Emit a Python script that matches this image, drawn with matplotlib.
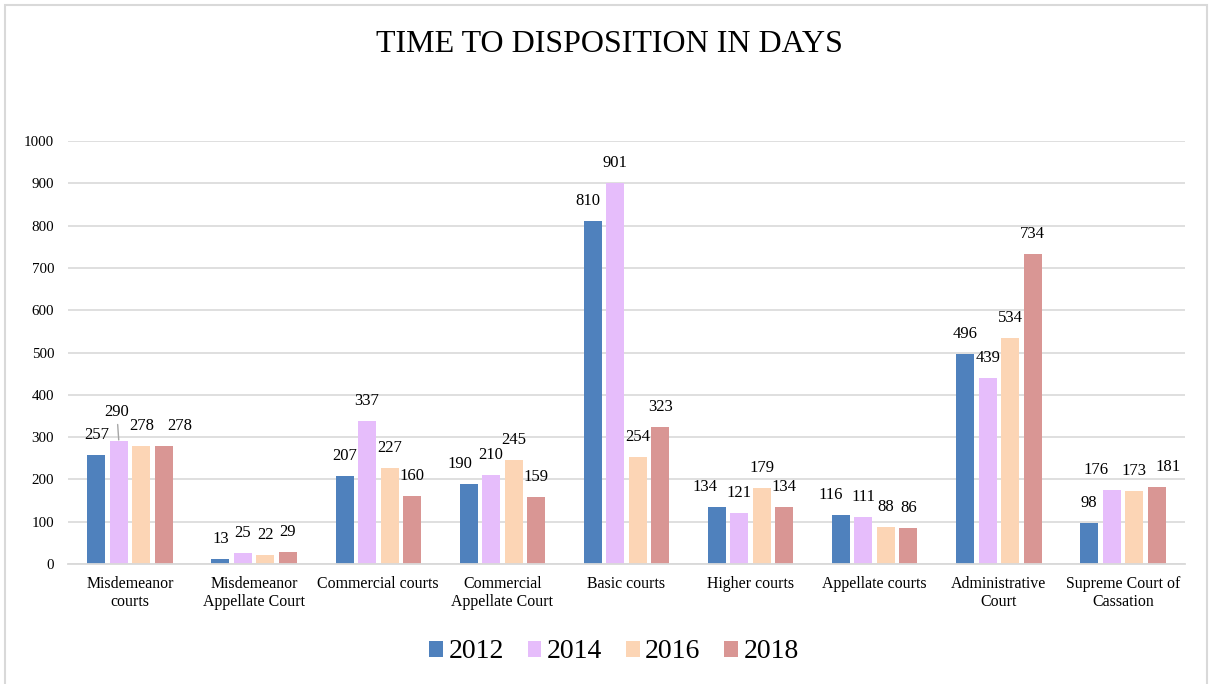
import numpy as np
import matplotlib.pyplot as plt
from matplotlib.patches import Rectangle

plt.rcParams['font.family'] = ['Liberation Serif', 'DejaVu Serif']

# court categories and average time to disposition (days) per year
categories = ["Misdemeanor\ncourts", "Misdemeanor\nAppellate Court", "Commercial courts",
              "Commercial\nAppellate Court", "Basic courts", "Higher courts",
              "Appellate courts", "Administrative\nCourt", "Supreme Court of\nCassation"]
years = ["2012", "2014", "2016", "2018"]
days_2012 = [257, 13, 207, 190, 810, 134, 116, 496, 98]
days_2014 = [290, 25, 337, 210, 901, 121, 111, 439, 176]
days_2016 = [278, 22, 227, 245, 254, 179, 88, 534, 173]
days_2018 = [278, 29, 160, 159, 323, 134, 86, 734, 181]
series = [days_2012, days_2014, days_2016, days_2018]
colors = ["#4F81BD", "#E6BDFB", "#FCD5B5", "#D99694"]

# labels nudged sideways (pixels) so they do not collide
label_shift = {(0, 3): 16, (3, 0): -9, (4, 0): -5, (5, 0): -12,
               (6, 0): -10, (8, 1): -16, (8, 3): 11, (0, 1): -2}

fig = plt.figure(figsize=(12.11, 6.84), dpi=100)
ax = fig.add_axes([68 / 1211, 1 - 564 / 684, 1117 / 1211, 423 / 684])

x = np.arange(len(categories))
step = 0.181
width = 0.145
for k, (vals, col, yr) in enumerate(zip(series, colors, years)):
    pos = x + (k - 1.5) * step
    ax.bar(pos, vals, width, color=col, label=yr, zorder=2)
    for i, v in enumerate(vals):
        dx = label_shift.get((i, k), 0)
        if (i, k) == (0, 1):
            ax.annotate(str(v), xy=(pos[i], v), xytext=(dx, 29), textcoords='offset pixels',
                        ha='center', va='center', fontsize=12,
                        arrowprops=dict(arrowstyle='-', color='#A6A6A6', lw=1,
                                        shrinkA=1, shrinkB=1))
        else:
            ax.annotate(str(v), xy=(pos[i], v), xytext=(dx, 20), textcoords='offset pixels',
                        ha='center', va='center', fontsize=12)

ax.set_xlim(-0.5, len(categories) - 0.5)
ax.set_ylim(0, 1000)
ax.set_yticks(range(0, 1001, 100))
ax.set_xticks(x)
ax.set_xticklabels(categories, fontsize=11.4, linespacing=1.15)
ax.tick_params(axis='y', length=0, pad=10, labelsize=10.8)
ax.tick_params(axis='x', length=0, pad=9)
ax.grid(axis='y', color='#D9D9D9', lw=1.2, zorder=0)
for s in ['top', 'right', 'left']:
    ax.spines[s].set_visible(False)
ax.spines['bottom'].set_color('#D9D9D9')
ax.spines['bottom'].set_linewidth(1.3)

fig.text(609 / 1211, 1 - 45 / 684, "TIME TO DISPOSITION IN DAYS", ha='center', va='center',
         fontsize=23)

fig.legend(loc='center', bbox_to_anchor=(614 / 1211, 1 - 652 / 684), ncol=4, frameon=False,
           fontsize=20, handlelength=0.5, handleheight=0.5, handletextpad=0.2,
           columnspacing=0.85)

# outer chart border
fig.patches.append(Rectangle((5 / 1211, -0.05), 1202 / 1211, 1.05 - 5 / 684,
                             transform=fig.transFigure, fill=False,
                             edgecolor='#D9D9D9', lw=1.5))

fig.savefig("out.png", dpi=100)
